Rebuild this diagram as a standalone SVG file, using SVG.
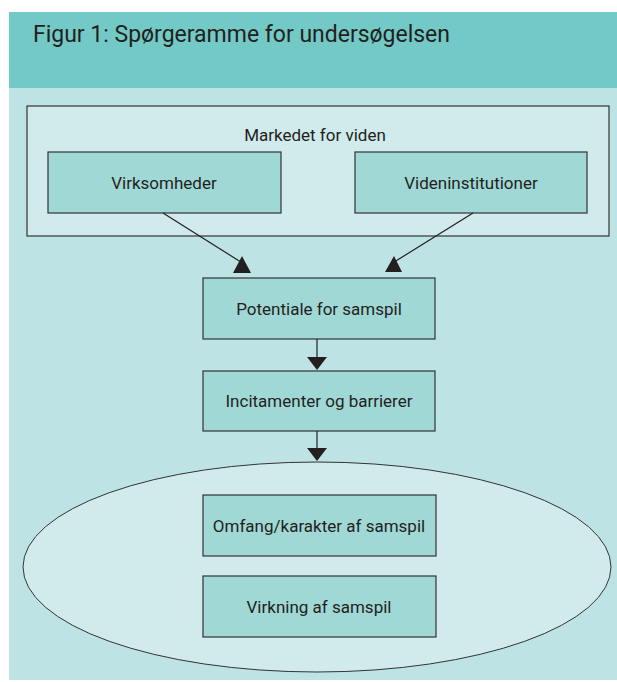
<svg xmlns="http://www.w3.org/2000/svg" width="617" height="682" viewBox="0 0 617 682">
<style>
.t{font-family:Roboto,"Liberation Sans",Arial,sans-serif;font-weight:400;fill:#231f20;text-anchor:middle;font-size:17px}
.n{fill:#a0d8d6;stroke:#333;stroke-width:1.2}
.c{stroke:#231f20;stroke-width:1.2;fill:none}
.h{fill:#231f20}
</style>
<rect x="0" y="0" width="617" height="682" fill="#fff"/>
<rect x="9" y="12" width="608" height="76" fill="#72c9c6"/>
<rect x="9" y="88" width="608" height="592" fill="#bde3e4"/>
<text x="33" y="42" font-family="Roboto,'Liberation Sans',Arial,sans-serif" font-weight="400" font-size="23" fill="#231f20" textLength="417" lengthAdjust="spacingAndGlyphs">Figur 1: Spørgeramme for undersøgelsen</text>
<g id="market">
<rect x="27" y="106" width="582" height="130" fill="#d1eaeb" stroke="#333" stroke-width="1.2"/>
<text class="t" x="315" y="141">Markedet for viden</text>
</g>
<g id="virksomheder">
<rect class="n" x="48" y="152" width="233" height="61"/>
<text class="t" x="164" y="189">Virksomheder</text>
</g>
<g id="videninst">
<rect class="n" x="355" y="152" width="232" height="61"/>
<text class="t" x="471" y="189">Videninstitutioner</text>
</g>
<g id="ellipse">
<ellipse cx="317" cy="567" rx="294" ry="105" fill="#d1eaeb" stroke="#333" stroke-width="1"/>
</g>
<g id="potentiale">
<rect class="n" x="203" y="278" width="232" height="61"/>
<text class="t" x="319" y="315">Potentiale for samspil</text>
</g>
<g id="incitamenter">
<rect class="n" x="203" y="371" width="232" height="60"/>
<text class="t" x="319" y="407">Incitamenter og barrierer</text>
</g>
<g id="omfang">
<rect class="n" x="203" y="495" width="233" height="61"/>
<text class="t" x="319" y="532">Omfang/karakter af samspil</text>
</g>
<g id="virkning">
<rect class="n" x="203" y="576" width="233" height="61"/>
<text class="t" x="319" y="613">Virkning af samspil</text>
</g>
<g id="connectors">
<line class="c" x1="163" y1="213" x2="244" y2="264"/>
<polygon class="h" points="242,256 251,273 233,273"/>
<line class="c" x1="473" y1="213" x2="391" y2="264"/>
<polygon class="h" points="394,256 402,272 385,272"/>
<line class="c" x1="317" y1="339" x2="317" y2="358"/>
<polygon class="h" points="307,357 327,357 317,370"/>
<line class="c" x1="317" y1="431" x2="317" y2="449"/>
<polygon class="h" points="307,448 327,448 317,461"/>
</g>
</svg>
